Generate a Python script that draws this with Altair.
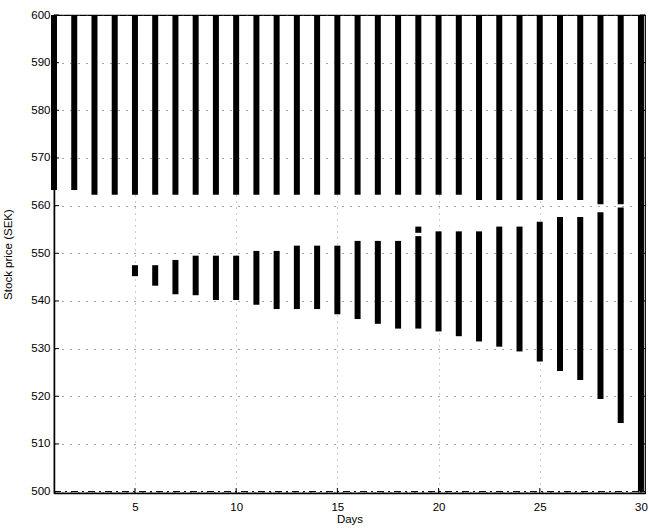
import altair as alt
import pandas as pd

# Days on the horizontal axis
days = list(range(1, 31))

# Upper band: every day runs from this price up to the 600 SEK ceiling
upper_low = [563.3, 563.3] + [562.3] * 19 + [561.2] * 6 + [560.3, 560.3] + [500.0]
upper_high = [600.0] * 30

# Lower band (days 5 to 29)
lower_days = list(range(5, 30))
lower_high = [547.5, 547.5, 548.6, 549.5, 549.5, 549.5, 550.5, 550.5, 551.6, 551.6,
              551.6, 552.6, 552.6, 552.6, 553.6, 554.6, 554.6, 554.6, 555.6, 555.6,
              556.6, 557.6, 557.6, 558.6, 559.6]
lower_low = [545.2, 543.2, 541.4, 541.2, 540.2, 540.2, 539.2, 538.3, 538.3, 538.3,
             537.2, 536.2, 535.2, 534.2, 534.2, 533.6, 532.6, 531.5, 530.4, 529.4,
             527.3, 525.3, 523.4, 519.4, 514.4]

# Isolated segment on day 19
extra_days = [19]
extra_low = [554.3]
extra_high = [555.6]

# Horizontal reference level
ref_level = [500]

x_ticks = [5, 10, 15, 20, 25, 30]
y_ticks = list(range(500, 601, 10))

W, H = 591, 478
FONT = "Liberation Sans"

segments = pd.DataFrame({
    "day": days + lower_days + extra_days,
    "low": upper_low + lower_low + extra_low,
    "high": upper_high + lower_high + extra_high,
})

x_scale = alt.Scale(domain=[1, 30.2], nice=False, zero=False)
y_scale = alt.Scale(domain=[499.7, 600], nice=False, zero=False)

x_axis = alt.Axis(values=x_ticks, title="Days", grid=True, gridDash=[1, 5],
                  gridColor="#999", gridOpacity=1, tickSize=0, labelPadding=8,
                  titlePadding=1, labelFontSize=11.5, titleFontSize=11.5,
                  labelFont=FONT, titleFont=FONT, labelColor="black",
                  titleColor="black", titleFontWeight="normal",
                  domainColor="black", domainWidth=1.5)
y_axis = alt.Axis(values=y_ticks, title="Stock price (SEK)", grid=True,
                  gridDash=[1, 7], gridColor="#444", gridOpacity=1, tickSize=0,
                  labelPadding=4, titlePadding=17, labelFontSize=11.5,
                  titleFontSize=11.5, labelFont=FONT, titleFont=FONT,
                  labelColor="black", titleColor="black",
                  titleFontWeight="normal", domainColor="black", domainWidth=1.5)

bars = alt.Chart(segments).mark_rule(color="black", strokeWidth=6, strokeCap="butt").encode(
    x=alt.X("day:Q", scale=x_scale, axis=x_axis),
    y=alt.Y("low:Q", scale=y_scale, axis=y_axis),
    y2="high:Q",
)

ref = alt.Chart(pd.DataFrame({"level": ref_level})).mark_rule(
    color="black", strokeWidth=1, strokeDash=[7, 4, 2, 4]
).encode(
    y=alt.Y("level:Q", scale=y_scale),
    x=alt.value(0), x2=alt.value(W),
)

# Inward tick marks on all four sides of the box
xt = pd.DataFrame({"t": x_ticks})
yt = pd.DataFrame({"t": y_ticks})
tick_style = dict(color="black", strokeWidth=1)
ticks_bottom = alt.Chart(xt).mark_rule(**tick_style).encode(
    x=alt.X("t:Q", scale=x_scale), y=alt.value(H - 5), y2=alt.value(H))
ticks_top = alt.Chart(xt).mark_rule(**tick_style).encode(
    x=alt.X("t:Q", scale=x_scale), y=alt.value(0), y2=alt.value(5))
ticks_left = alt.Chart(yt).mark_rule(**tick_style).encode(
    y=alt.Y("t:Q", scale=y_scale), x=alt.value(0), x2=alt.value(5))
ticks_right = alt.Chart(yt).mark_rule(**tick_style).encode(
    y=alt.Y("t:Q", scale=y_scale), x=alt.value(W - 5), x2=alt.value(W))

chart = alt.layer(ref, bars, ticks_bottom, ticks_top, ticks_left, ticks_right).properties(
    width=W, height=H,
    autosize=alt.AutoSizeParams(type="none"),
    padding={"left": 54, "top": 15, "right": 4, "bottom": 36},
    background="white",
).configure_view(stroke="black", strokeWidth=1.2)

chart.save("out.html", embed_options={"renderer": "svg", "actions": False})
